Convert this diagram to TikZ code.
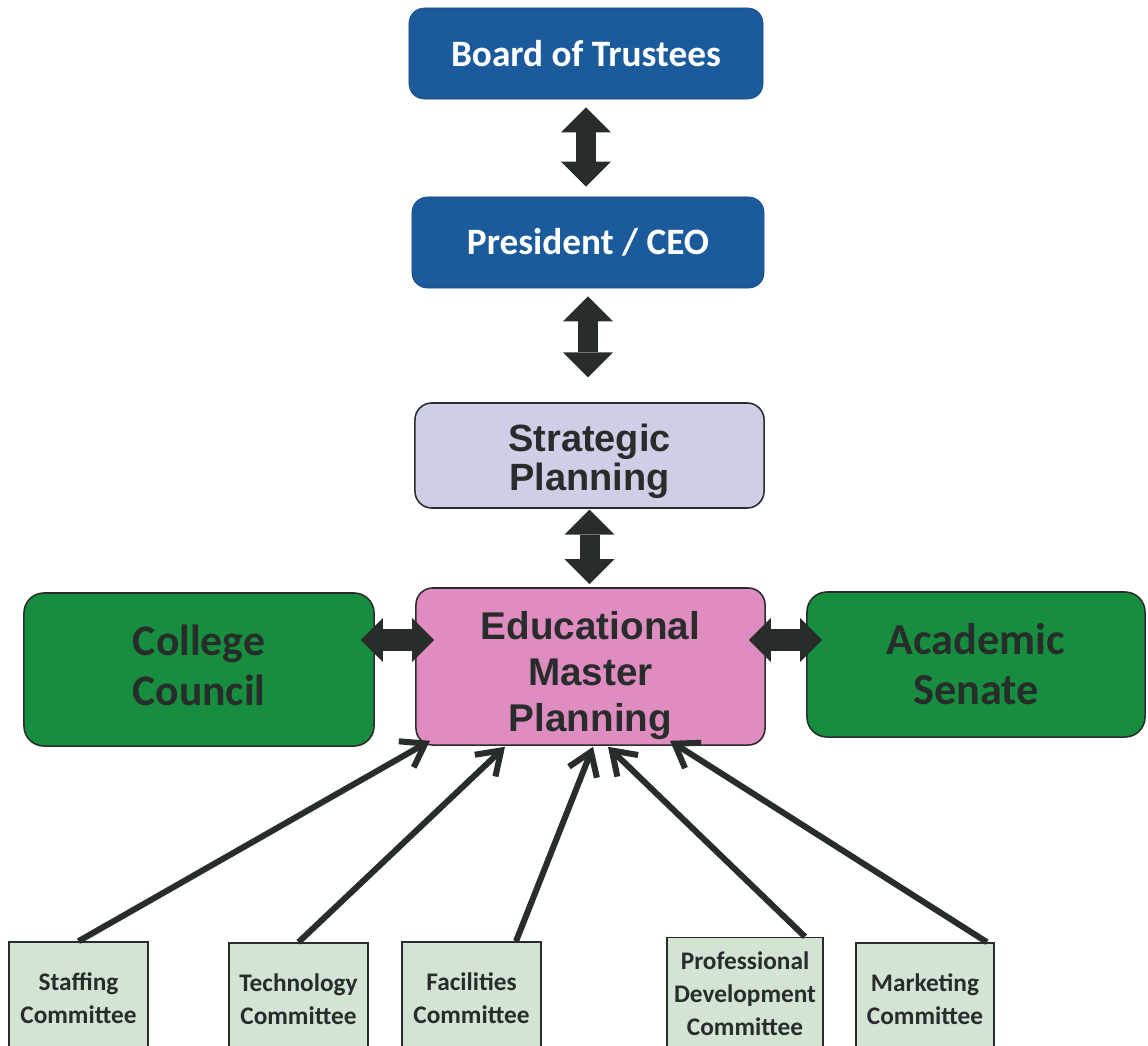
\documentclass[tikz,border=0pt]{standalone}
\usepackage{fontspec}
\setmainfont{Carlito}
\newfontfamily\arialfont{Liberation Sans}
\usetikzlibrary{arrows.meta}

\definecolor{boardblue}{RGB}{27,91,156}
\definecolor{stratlilac}{RGB}{206,206,231}
\definecolor{empink}{RGB}{223,141,192}
\definecolor{councilgreen}{RGB}{23,141,63}
\definecolor{cttgreen}{RGB}{212,228,212}
\definecolor{inkgray}{RGB}{40,44,42}

\begin{document}
\begin{tikzpicture}
  [
    x = 0.025cm, y = -0.025cm,
    bluebox/.style = {draw=boardblue!80!black, fill=boardblue, rounded corners=0.38cm, text=white,
        font=\fontsize{26.5}{30}\selectfont\bfseries, minimum height=2.275cm, inner sep=0pt},
    planbox/.style = {draw=inkgray, line width=1.1pt, rounded corners=0.42cm, text=inkgray, align=center,
        font=\arialfont\fontsize{27}{27.5}\selectfont\bfseries, inner sep=0pt},
    greenbox/.style = {draw=inkgray, line width=1.1pt, fill=councilgreen, rounded corners=0.5cm, text=inkgray,
        align=center, font=\fontsize{31}{35.5}\selectfont\bfseries, inner sep=0pt},
    cttbox/.style = {draw=inkgray, line width=1.1pt, fill=cttgreen, text=inkgray, align=center,
        font=\fontsize{18}{23.5}\selectfont\bfseries, minimum width=3.475cm, minimum height=2.8cm, inner sep=0pt},
    bigarrow/.style = {draw=inkgray, line width=0.5cm,
        {Triangle[length=0.625cm,width=1.25cm,line width=0pt]}-{Triangle[length=0.625cm,width=1.25cm,line width=0pt]}},
    sidearrow/.style = {draw=inkgray, line width=0.55cm,
        {Triangle[length=0.55cm,width=1.1cm,line width=0pt]}-{Triangle[length=0.55cm,width=1.1cm,line width=0pt]}},
    feeder/.style = {draw=inkgray, line width=4.3pt, -{Straight Barb[length=0.55cm,width=0.75cm]}},
  ]

  \useasboundingbox (0,0) rectangle (1148,1045);

  \node[bluebox, minimum width=8.85cm] (board) at (586,53.5) {Board of Trustees};
  \node[bluebox, minimum width=8.8cm] (pres) at (588,242.5) {President / CEO};
  \node[planbox, fill=stratlilac, minimum width=8.725cm, minimum height=2.625cm] (strat) at (589.5,455.5) {\rule{0pt}{28pt}Strategic\\Planning};
  \node[planbox, fill=empink, minimum width=8.725cm, minimum height=3.925cm, font=\arialfont\fontsize{27.5}{32.5}\selectfont\bfseries] (emp) at (590.5,666.5) {\rule{0pt}{33pt}Educational\\Master\\Planning};
  \node[greenbox, minimum width=8.75cm, minimum height=3.825cm] (council) at (199,669.5) {College\\Council\rule[-6.4pt]{0pt}{6.4pt}};
  \node[greenbox, minimum width=8.45cm, minimum height=3.625cm, font=\fontsize{31.5}{35.5}\selectfont\bfseries] (senate) at (976,664.5) {Academic\\Senate};

  \node[cttbox] (staff) at (78.5,998) {Staffing\\Committee};
  \node[cttbox] (tech) at (298.5,999) {Technology\\Committee};
  \node[cttbox] (fac) at (471.5,998) {Facilities\\Committee};
  \node[cttbox, minimum width=3.9cm] (prof) at (745,993.5) {Professional\\Development\\Committee};
  \node[cttbox, minimum width=3.45cm] (mkt) at (925,999) {Marketing\\Committee};

  \draw[bigarrow, shorten <=0.2cm, shorten >=0.25cm] (board.south) -- (board.south |- pres.north);
  \draw[bigarrow, shorten <=0.2cm, shorten >=0.62cm] (pres.south) -- (pres.south |- strat.north);
  \draw[bigarrow, shorten <=0.02cm, shorten >=0.08cm] (strat.south) -- (strat.south |- emp.north);
  \draw[sidearrow] ([shift={(-14,-29.5)}]council.east) -- ([shift={(19,-26.5)}]emp.west);
  \draw[sidearrow] ([shift={(-17,-26.5)}]emp.east) -- ([shift={(16,-24.5)}]senate.west);

  \draw[feeder] (staff.north) -- ([shift={(-160.5,-5)}]emp.south);
  \draw[feeder] (tech.north) -- ([shift={(-85.5,1)}]emp.south);
  \draw[feeder] ([xshift=1.1125cm]fac.north) -- ([shift={(2.5,1)}]emp.south);
  \draw[feeder] ([xshift=1.5cm]prof.north) -- ([shift={(17.5,1)}]emp.south);
  \draw[feeder] ([xshift=1.55cm]mkt.north) -- ([shift={(79.5,-5)}]emp.south);

\end{tikzpicture}
\end{document}
